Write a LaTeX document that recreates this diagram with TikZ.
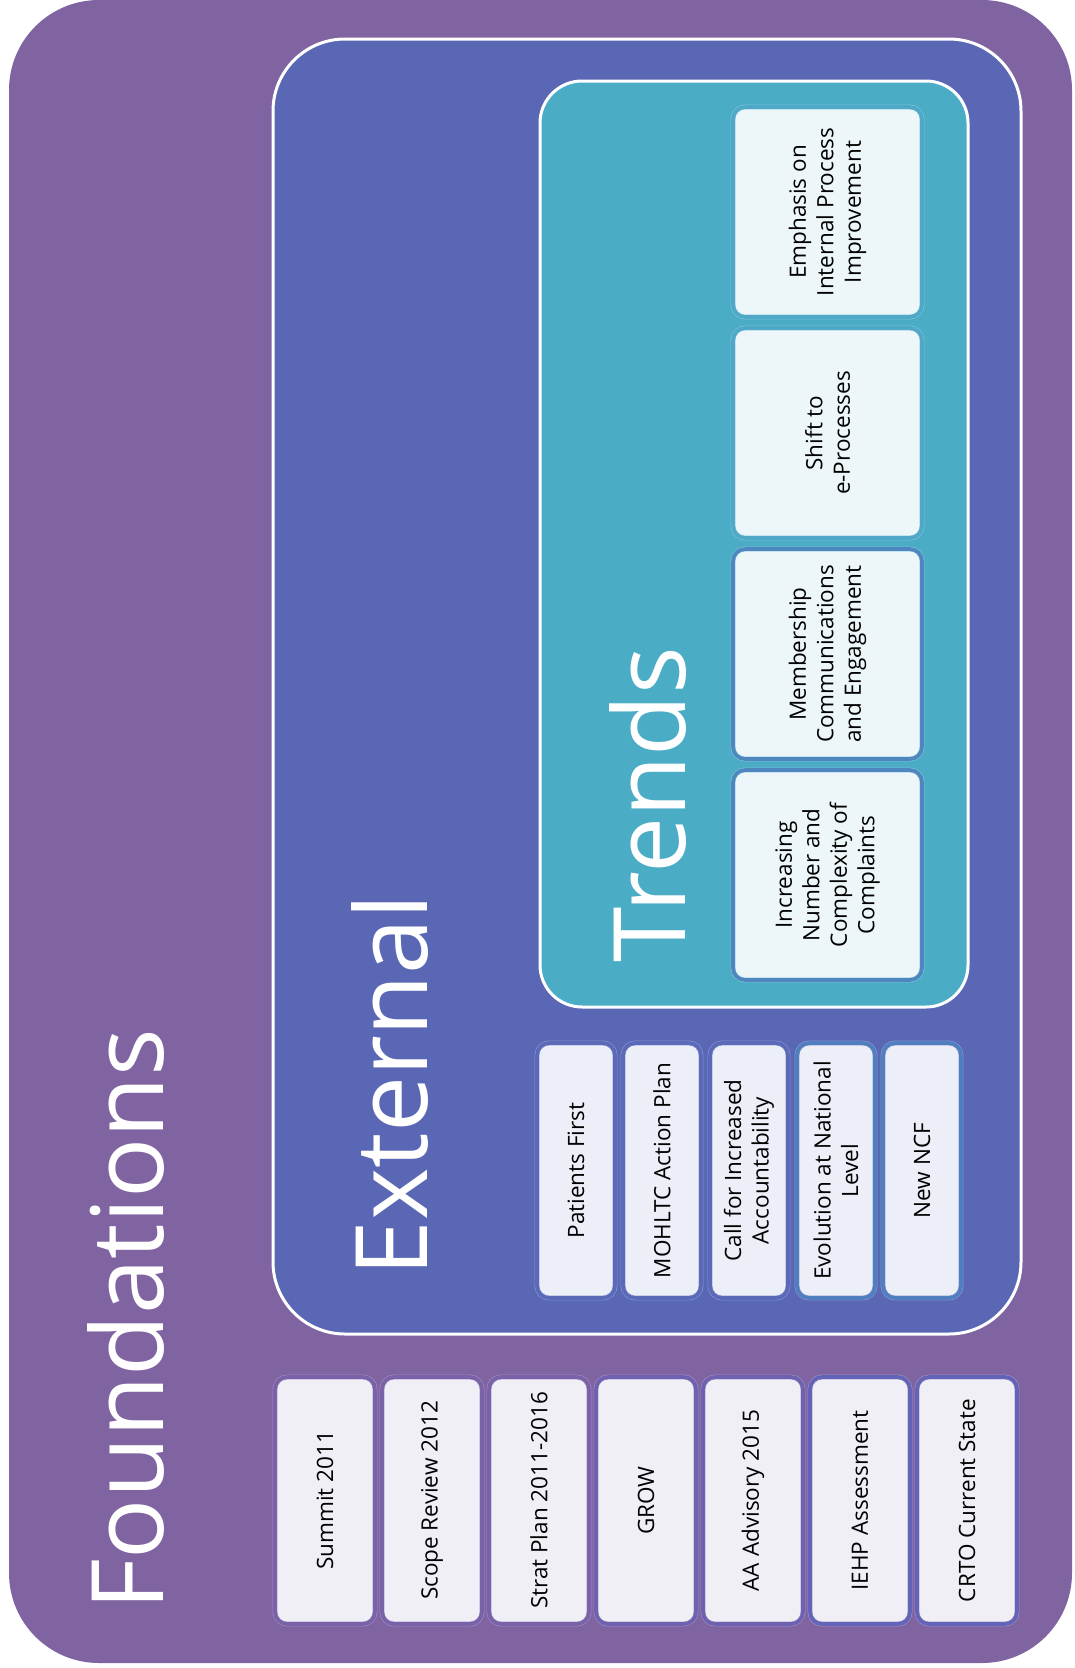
\documentclass[tikz,border=0pt]{standalone}
\usepackage{fontspec}
\setmainfont{Open Sans}
\definecolor{col_8064A2}{RGB}{128,100,162}
\definecolor{col_5A67B4}{RGB}{90,103,180}
\definecolor{col_4BACC6}{RGB}{75,172,198}
\definecolor{col_F1EFF6}{RGB}{241,239,246}
\definecolor{col_ECEEF8}{RGB}{236,238,248}
\definecolor{col_EDF6F9}{RGB}{237,246,249}
\definecolor{col_7A62A8}{RGB}{122,98,168}
\definecolor{col_6E62B0}{RGB}{110,98,176}
\definecolor{col_6264B8}{RGB}{98,100,184}
\definecolor{col_5A6AB8}{RGB}{90,106,184}
\definecolor{col_507FC0}{RGB}{80,127,192}
\definecolor{col_4FA8C8}{RGB}{79,168,200}
\definecolor{col_4F86C0}{RGB}{79,134,192}
\definecolor{col_A08EC4}{RGB}{160,142,196}
\definecolor{col_8A96D0}{RGB}{138,150,208}
\definecolor{col_7CC4D8}{RGB}{124,196,216}

\tikzset{
  box/.style={rectangle, rotate=90, rounded corners=12pt, align=center, text=black,
    font=\fontsize{22.5}{27.5}\selectfont, line width=0.6pt, double distance=3.6pt, inner sep=2pt},
  fbox/.style={box, fill=col_F1EFF6, draw=col_A08EC4, double=#1, minimum width=247pt, minimum height=100pt},
  ebox/.style={box, fill=col_ECEEF8, draw=col_8A96D0, double=#1, minimum width=255pt, minimum height=78pt},
  tbox/.style={box, fill=col_EDF6F9, draw=col_7CC4D8, double=#1, minimum width=210pt, minimum height=189pt},
  title/.style={rotate=90, text=white, font=\fontsize{100}{100}\selectfont, inner sep=0pt}
}

\begin{document}
\begin{tikzpicture}[x=1pt,y=-1pt]
\useasboundingbox (0,0) rectangle (1074,1668);
\fill[col_8064A2, rounded corners=90pt] (9,0) rectangle (1072,1663);     %% foundations
\filldraw[fill=col_5A67B4, draw=white, line width=3pt, rounded corners=72pt] (273,39) rectangle (1021,1334);     %% external
\filldraw[fill=col_4BACC6, draw=white, line width=3pt, rounded corners=42pt] (540,81) rectangle (968,1007);     %% trends

\node[title] (foundations) at (126,1320) {Foundations};
\node[title] (external) at (390,1085) {External};
\node[title] (trends) at (648,805) {Trends};

\node[fbox=col_7A62A8] (summit) at (325,1500.5) {Summit 2011};
\node[fbox=col_7A62A8] (scope) at (432,1500.5) {Scope Review 2012};
\node[fbox=col_7A62A8] (strat) at (539,1500.5) {Strat Plan 2011-2016};
\node[fbox=col_6E62B0] (grow) at (646,1500.5) {GROW};
\node[fbox=col_6E62B0] (advisory) at (753,1500.5) {AA Advisory 2015};
\node[fbox=col_6264B8] (iehp) at (860,1500.5) {IEHP Assessment};
\node[fbox=col_6264B8] (crto) at (967,1500.5) {CRTO Current State};

\node[ebox=col_5A6AB8] (patients) at (576,1170.5) {Patients First};
\node[ebox=col_5A6AB8] (mohltc) at (662,1170.5) {MOHLTC Action Plan};
\node[ebox=col_5A6AB8] (accountability) at (749,1170.5) {Call for Increased\\Accountability};
\node[ebox=col_507FC0] (national) at (836,1170.5) {Evolution at National\\Level};
\node[ebox=col_507FC0] (ncf) at (922,1170.5) {New NCF};

\node[tbox=col_4FA8C8] (emphasis) at (827.5,212) {Emphasis on\\Internal Process\\Improvement};
\node[tbox=col_4FA8C8] (eproc) at (827.5,433) {Shift to\\e-Processes};
\node[tbox=col_4F86C0] (membership) at (827.5,654) {Membership\\Communications\\and Engagement};
\node[tbox=col_4F86C0] (complaints) at (827.5,875) {Increasing\\Number and\\Complexity of\\Complaints};
\end{tikzpicture}
\end{document}
